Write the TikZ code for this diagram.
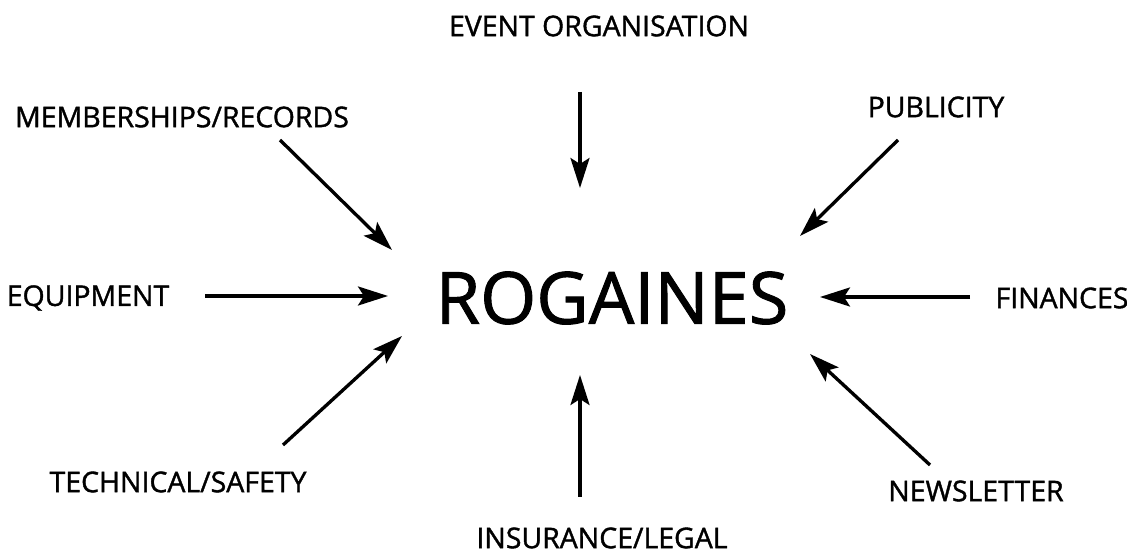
\documentclass[tikz,border=0pt]{standalone}
\usepackage{fontspec}
\setmainfont{Open Sans}[FakeBold=1.3]
\usetikzlibrary{arrows.meta}

\tikzset{
	topic/.style={font=\fontsize{16.2}{19}\selectfont, inner sep=0pt},
	feed/.style={-{Stealth[length=6mm, width=3.8mm, inset=1.2mm]}, line width=1.9pt}
}

\begin{document}
\begin{tikzpicture}[x=0.02cm, y=-0.02cm]
		\useasboundingbox (0, 0) rectangle (1127, 553);

		\node (hub) at (612, 298) {\fontsize{41}{49}\selectfont ROGAINES};

		\node [topic] (event) at (599, 26) {EVENT ORGANISATION};
		\node [topic] (member) at (182, 117) {MEMBERSHIPS/RECORDS};
		\node [topic] (public) at (936, 107) {PUBLICITY};
		\node [topic] (equip) at (88, 298) {EQUIPMENT};
		\node [topic] (finance) at (1062, 298) {FINANCES};
		\node [topic] (tech) at (178, 482) {TECHNICAL/SAFETY};
		\node [topic] (news) at (976, 491) {NEWSLETTER};
		\node [topic] (legal) at (602, 538) {INSURANCE/LEGAL};

		% arrow ends
		\coordinate (event-a) at (580, 92);    \coordinate (event-b) at (580, 188);
		\coordinate (member-a) at (280, 140);  \coordinate (member-b) at (392, 250);
		\coordinate (public-a) at (898, 140);  \coordinate (public-b) at (800, 236);
		\coordinate (equip-a) at (205, 296);   \coordinate (equip-b) at (388, 296);
		\coordinate (finance-a) at (970, 297); \coordinate (finance-b) at (820, 297);
		\coordinate (tech-a) at (283, 445);    \coordinate (tech-b) at (402, 336);
		\coordinate (news-a) at (930, 465);    \coordinate (news-b) at (810, 354);
		\coordinate (legal-a) at (580, 497);   \coordinate (legal-b) at (580, 375);

		\foreach \t in {event, member, public, equip, finance, tech, news, legal} {
			\draw [feed] (\t-a) -- (\t-b);
		}
	\end{tikzpicture}
\end{document}
